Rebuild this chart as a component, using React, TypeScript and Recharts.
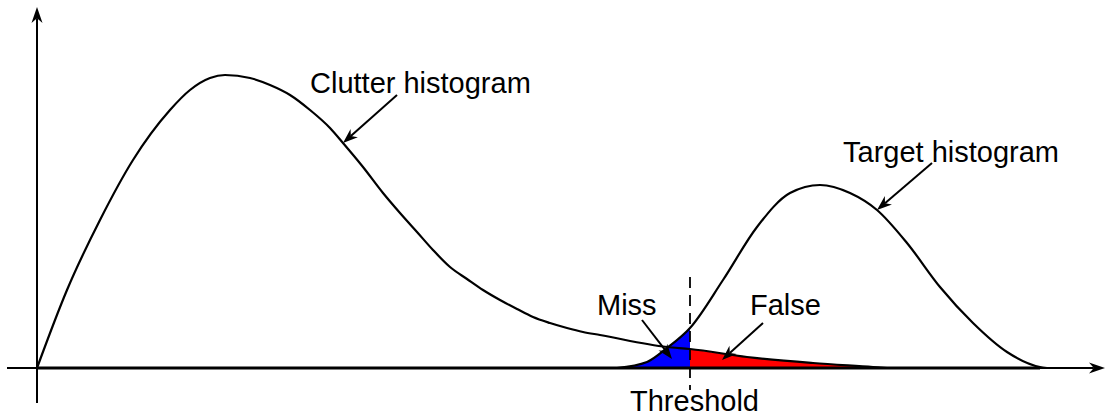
import React from 'react';
import { ComposedChart, Area, Line, XAxis, YAxis, ReferenceLine, ReferenceDot } from 'recharts';

// Clutter histogram (x, height)
const clutterX = [0, 30, 63, 96, 133, 153, 173, 188, 213, 233, 253, 273, 293, 306, 326, 346, 363, 380, 396, 413, 430, 446, 463, 480, 496, 513, 530, 546, 563, 630, 653, 710, 776, 836, 850];
const clutterY = [0, 78, 148, 208, 258, 278, 290, 293, 290, 283, 273, 258, 240, 225, 201, 175, 155, 136, 118, 101, 89, 78, 68, 59, 51, 45, 40, 36, 33, 21, 19, 11, 5, 1, 0];

// Target histogram (x, height)
const targetX = [580, 610, 630, 653, 686, 720, 753, 783, 813, 840, 870, 903, 936, 970, 1003, 1010];
const targetY = [0, 6, 20, 40, 88, 141, 175, 183, 175, 158, 125, 81, 45, 16, 1, 0];

const threshold = 653;

// Labels: text, x, y (baseline)
const labelText = ['Clutter histogram', 'Target histogram', 'Miss', 'False', 'Threshold'];
const labelX = [273, 806, 560, 713, 593];
const labelY = [275, 206, 53, 53, -43];

// Annotation arrows: from (x1,y1) to (x2,y2)
const arrowFromX = [360, 895, 605, 726];
const arrowFromY = [273, 205, 48, 45];
const arrowToX = [306, 840, 635, 685];
const arrowToY = [225, 158, 9, 8];

const clutterData = clutterX.map((x, i) => ({ x, y: clutterY[i] }));
const targetData = targetX.map((x, i) => ({ x, y: targetY[i] }));
const missData = targetData.filter((d) => d.x <= threshold);
const falseData = clutterData.filter((d) => d.x >= threshold);

const FONT = '"Liberation Sans", Arial, Helvetica, sans-serif';

const arrowShape = (w: number, head: number, half: number) => (p: any) => {
  const x1 = Number(p.x1), y1 = Number(p.y1), x2 = Number(p.x2), y2 = Number(p.y2);
  const dx = x2 - x1, dy = y2 - y1;
  const len = Math.hypot(dx, dy) || 1;
  const ux = dx / len, uy = dy / len;
  const bx = x2 - ux * head, by = y2 - uy * head;
  const nx = x2 - ux * head * 0.7, ny = y2 - uy * head * 0.7;
  const px = -uy, py = ux;
  const d = `M${x2},${y2} L${bx + px * half},${by + py * half} L${nx},${ny} L${bx - px * half},${by - py * half} Z`;
  return (
    <g>
      <path d={`M${x1},${y1} L${nx},${ny}`} stroke="#000" strokeWidth={w} fill="none" />
      <path d={d} fill="#000" stroke="none" />
    </g>
  );
};

const textShape = (t: string) => (p: any) => (
  <text x={p.cx} y={p.cy} fontFamily={FONT} fontSize={29} fill="#000">{t}</text>
);

export default function App() {
  return (
    <div style={{ position: 'absolute', left: 0, top: 0, width: 1107, height: 417, background: '#fff' }}>
      <ComposedChart width={1107} height={417} margin={{ top: 0, right: 0, bottom: 0, left: 0 }}>
        <XAxis type="number" dataKey="x" domain={[-37, 1070]} allowDataOverflow hide />
        <YAxis type="number" domain={[-49, 368]} allowDataOverflow hide />
        <Area data={missData} dataKey="y" type="monotone" baseValue={0} fill="#0000ff" fillOpacity={1} stroke="none" dot={false} activeDot={false} isAnimationActive={false} />
        <Area data={falseData} dataKey="y" type="monotone" baseValue={0} fill="#ff0000" fillOpacity={1} stroke="none" dot={false} activeDot={false} isAnimationActive={false} />
        <ReferenceLine segment={[{ x: -30, y: 0 }, { x: 1068, y: 0 }]} ifOverflow="visible" shape={arrowShape(2, 16, 5.5)} />
        <ReferenceLine segment={[{ x: 0, y: -35 }, { x: 0, y: 361 }]} ifOverflow="visible" shape={arrowShape(2, 16, 5.5)} />
        <ReferenceLine segment={[{ x: 1, y: 0 }, { x: 1003, y: 0 }]} ifOverflow="visible" stroke="#000" strokeWidth={3} />
        <ReferenceLine segment={[{ x: threshold, y: 91 }, { x: threshold, y: -22 }]} ifOverflow="visible" stroke="#000" strokeWidth={1.8} strokeDasharray="11 7" />
        <Line data={clutterData} dataKey="y" type="monotone" stroke="#000" strokeWidth={2.2} dot={false} activeDot={false} isAnimationActive={false} />
        <Line data={targetData} dataKey="y" type="monotone" stroke="#000" strokeWidth={2.2} dot={false} activeDot={false} isAnimationActive={false} />
        {arrowFromX.map((x, i) => (
          <ReferenceLine key={'arrow-' + i} segment={[{ x, y: arrowFromY[i] }, { x: arrowToX[i], y: arrowToY[i] }]} ifOverflow="visible" shape={arrowShape(2, 15, 5.5)} />
        ))}
        {labelText.map((t, i) => (
          <ReferenceDot key={'label-' + i} x={labelX[i]} y={labelY[i]} r={0} ifOverflow="visible" shape={textShape(t)} />
        ))}
      </ComposedChart>
    </div>
  );
}
